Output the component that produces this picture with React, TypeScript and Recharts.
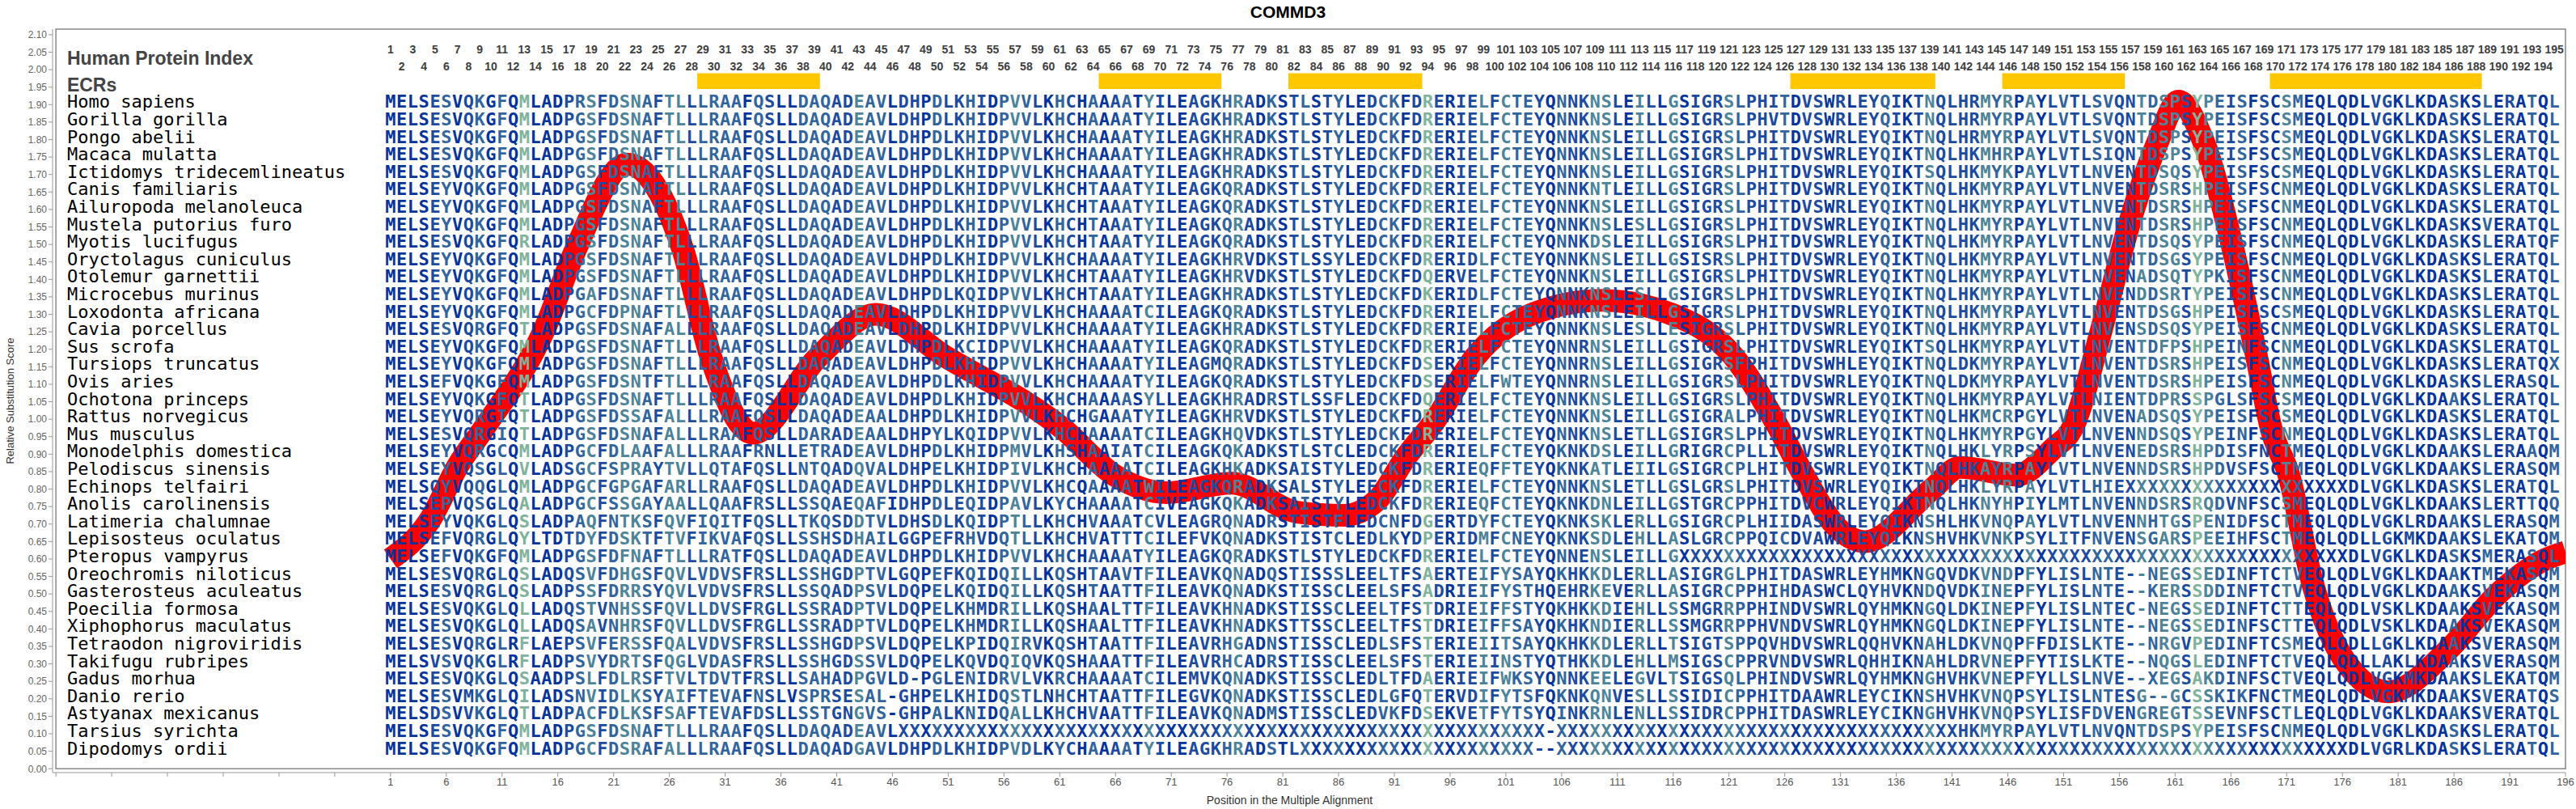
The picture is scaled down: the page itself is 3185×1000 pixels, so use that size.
import { ComposedChart, Line, ReferenceArea, Scatter, XAxis, YAxis } from 'recharts';

const species = [
  'Homo sapiens', 'Gorilla gorilla', 'Pongo abelii', 'Macaca mulatta', 'Ictidomys tridecemlineatus',
  'Canis familiaris', 'Ailuropoda melanoleuca', 'Mustela putorius furo', 'Myotis lucifugus',
  'Oryctolagus cuniculus', 'Otolemur garnettii', 'Microcebus murinus', 'Loxodonta africana',
  'Cavia porcellus', 'Sus scrofa', 'Tursiops truncatus', 'Ovis aries', 'Ochotona princeps',
  'Rattus norvegicus', 'Mus musculus', 'Monodelphis domestica', 'Pelodiscus sinensis',
  'Echinops telfairi', 'Anolis carolinensis', 'Latimeria chalumnae', 'Lepisosteus oculatus',
  'Pteropus vampyrus', 'Oreochromis niloticus', 'Gasterosteus aculeatus', 'Poecilia formosa',
  'Xiphophorus maculatus', 'Tetraodon nigroviridis', 'Takifugu rubripes', 'Gadus morhua',
  'Danio rerio', 'Astyanax mexicanus', 'Tarsius syrichta', 'Dipodomys ordii',
];

const rowY = [
  1.9, 1.85, 1.8, 1.75, 1.7, 1.65, 1.6, 1.55, 1.5, 1.45, 1.4, 1.35, 1.3, 1.25, 1.2, 1.15, 1.1, 1.05, 1.0,
  0.95, 0.9, 0.85, 0.8, 0.75, 0.7, 0.65, 0.6, 0.55, 0.5, 0.45, 0.4, 0.35, 0.3, 0.25, 0.2, 0.15, 0.1, 0.05,
];

// alignment columns 1-65
const seqStart = [
  'MELSESVQKGFQMLADPRSFDSNAFTLLLRAAFQSLLDAQADEAVLDHPDLKHIDPVVLKHCHAA',
  'MELSESVQKGFQMLADPGSFDSNAFTLLLRAAFQSLLDAQADEAVLDHPDLKHIDPVVLKHCHAA',
  'MELSESVQKGFQMLADPGSFDSNAFTLLLRAAFQSLLDAQADEAVLDHPDLKHIDPVVLKHCHAA',
  'MELSESVQKGFQMLADPGSFDSNAFTLLLRAAFQSLLDAQADEAVLDHPDLKHIDPVVLKHCHAA',
  'MELSESVQKGFQMLADPGSFDSNAFTLLLRAAFQSLLDAQADEAVLDHPDLKHIDPVVLKHCHAA',
  'MELSEYVQKGFQMLADPGSFDSNAFTLLLRAAFQSLLDAQADEAVLDHPDLKHIDPVVLKHCHTA',
  'MELSEYVQKGFQMLADPGSFDSNAFTLLLRAAFQSLLDAQADEAVLDHPDLKHIDPVVLKHCHTA',
  'MELSEYVQKGFQMLADPGSFDSNAFTLLLRAAFQSLLDAQADEAVLDHPDLKHIDPVVLKHCHTA',
  'MELSESVQKGFQRLADPGSFDSNAFTLLLRAAFQSLLDAQADEAVLDHPDLKHIDPVVLKHCHTA',
  'MELSEYVQKGFQMLADPGSFDSNAFTLLLRAAFQSLLDAQADEAVLDHPDLKHIDPVVLKHCHAA',
  'MELSEYVQKGFQMLADPGSFDSNAFTLLLRAAFQSLLDAQADEAVLDHPDLKHIDPVVLKHCHTA',
  'MELSEYVQKGFQMLADPGAFDSNAFTLLLRAAFQSLLDAQADEAVLDHPDLKQIDPVVLKHCHTA',
  'MELSEYVQKGFQMLADPGCFDPNAFTLLLRAAFQSLLDAQADEAVLDHPDLKHIDPVVLKHCHAA',
  'MELSESVQRGFQTLADPGSFDSNAFALLLRAAFQSLLDAQADEAVLDHPDLKHIDPVVLKHCHAA',
  'MELSEYVQKGFQMLADPGSFDSNAFTLLLRAAFQSLLDAQADEAVLDHPDLKCIDPVVLKHCHAA',
  'MELSEYVQKGFQMLADPGSFDSNAFTLLLRAAFQSLLDAQADEAVLDHPDLKHIDPVVLKHCHAA',
  'MELSEFVQKGFQMLADPGSFDSNTFTLLLRAAFQSLLDAQADEAVLDHPDLKHIDPVVLKHCHAA',
  'MELSEYVQKGFQTLADPGSFDSNAFTLLLRAAFQSLLDAQADEAVLDHPDLKHIDPVVLKHCHAA',
  'MELSEYVQRGIQTLADPGSFDSSAFALLLRAAFQSLLDAQADEAALDHPDLKHIDPVVLKHCHGA',
  'MELSESVQRGIQTLADPGSFDSNAFALLLRAAFQSLLDARADEAALDHPYLKQIDPVVLKHCHAA',
  'MELSEYVQRGCQMLADPGCFDLAAFALLLRAAFRNLLETRADEAVLDHPDLKHIDPMVLKHSHAA',
  'MELSEYVQSGLQVLADSGCFSPRAYTVLLQTAFQSLLNTQADQVALDHPELKHIDPIVLKHCHAA',
  'MELSQYVQQGLQMLADPGCFGPGAFARLLRAAFQSLLDAQADEAVLDHPDLKHIDPVVLKHCQAA',
  'MELSEPVQSGLQALADPGCFSSGAYAALLQAAFRSLLSSQAEQAFIDHPDLEQIDPAVLKYCHAA',
  'MELSEYVQKGLQSLADPAQFNTKSFQVFIQITFQSLLTKQSDDTVLDHSDLKQIDPTLLKHCHVA',
  'MELSEFVQRGLQYLTDTDYFDSKTFTVFIKVAFQSLLSSHSDHAILGGPEFRHVDQTLLKHCHVA',
  'MELSEFVQKGFQMLADPGSFDFNAFTLLLRATFQSLLDAQADEAVLDHPDLKHIDPVVLKHCHAA',
  'MELSESVQRGLQSLADQSVFDHGSFQVLVDVSFRSLLSSHGDPTVLGQPEFKQIDQILLKQSHTA',
  'MELSESVQRGLQSLADPSSFDRRSYQVLVDVSFRSLLSSQADPSVLDQPELKQIDQILLKQSHTA',
  'MELSESVQKGLQLLADQSTVNHSSFQVLLDVSFRGLLSSRADPTVLDQPELKHMDRILLKQSHAA',
  'MELSESVQKGLQLLADQSAVNHRSFQVLLDVSFRGLLSSRADPTVLDQPELKHMDRILLKQSHAA',
  'MELSESVQRGLRFLAEPSVFERSSFQALVDVSFRSLLSSHGDPSVLDQPELKPIDQIRVKQSHTA',
  'MELSVSVQKGLRFLADPSVYDRTSFQGLVDASFRSLLSSHGDSSVLDQPELKQVDQIQVKQSHAA',
  'MELSESVQKGLQSAADPSLFDLRSFTVLTDVTFRSLLSAHADPGVLD-PGLENIDRVLVKRCHAA',
  'MELSESVMKGLQILADSNVIDLKSYAIFTEVAFNSLVSPRSESAL-GHPELKHIDQSTLNHCHTA',
  'MELSDSVVKGLQTLADPACFDLKSFSAFTEVAFDSLLSSTGNGVS-GHPALKNIDQALLKHCHVA',
  'MELSESVQKGFQMLADPGSFDSNAFTLLLRAAFQSLLDAQADEAVL' + 'X'.repeat(19),
  'MELSESVQKGFQMLADPGCFDSRAFALLLRAAFQSLLDAQADGAVLDHPDLKHIDPVDLKYCHAA',
];

// alignment columns 66-131
const seqMid = [
  'AATYILEAGKHRADKSTLSTYLEDCKFDRERIELFCTEYQNNKNSLEILLGSIGRSLPHITDVSWR',
  'AATYILEAGKHRADKSTLSTYLEDCKFDRERIELFCTEYQNNKNSLEILLGSIGRSLPHVTDVSWR',
  'AATYILEAGKHRADKSTLSTYLEDCKFDRERIELFCTEYQNNKNSLEILLGSIGRSLPHITDVSWR',
  'AATYILEAGKHRADKSTLSTYLEDCKFDRERIELFCTEYQNNKNSLEILLGSIGRSLPHITDVSWR',
  'AATYILEAGKHRADKSTLSTYLEDCKFDRERIELFCTEYQNNKNSLEILLGSIGRSLPHITDVSWR',
  'AATYILEAGKQRADKSTLSTYLEDCKFDRERIELFCTEYQNNKNTLEILLGSIGRSLPHITDVSWR',
  'AATYILEAGKQRADKSTLSTYLEDCKFDRERIELFCTEYQNNKNSLEILLGSIGRSLPHITDVSWR',
  'AATYILEAGKQRADKSTLSTYLEDCKFDRERIELFCTEYQNNKNSLESLLGSIGRSLPHITDVSWR',
  'AATYILEAGKQRADKSTLSTYLEDCKFDRERIELFCTEYQNNKDSLEILLGSIGRSLPHITDVSWR',
  'AATYILEAGKHRVDKSTLSSYLEDCKFDRERIDLFCTEYQNNKNSLEILLGSISRSLPHITDVSWR',
  'AATYILEAGKHRVDKSTLSTYLEDCKFDQERVELFCTEYQNNKNSLEILLGSIGRSLPHITDVSWR',
  'AATYILEAGKHRADKSTLSTYLEDCKFDKERIDLFCTEYQNNKNSLESLLGSIGRSLPHITDVSWR',
  'AATCILEAGKQRADKSTLSTYLEDCKFDRERIELFCTEYQNNKNSLEILLGSIGRSLPHITDVSWR',
  'AATYILEAGKHRADKSTLSTYLEDCKFDRERIELFCTEYQNNKNSLESLLESIGRSLPHITDVSWR',
  'AATYILEAGKQRADKSTLSTYLEDCKFDRERIELFCTEYQNNRNSLEILLGSIGRSLPHITDVSWR',
  'AATYILEAGMQRADKSTLSTYLEDCKFDSERIELFCTEYQNNRNSLEILLGSIGRSFPHITDVSWH',
  'AATYILEAGKQRADKSTLSTYLEDCKFDSERIELFWTEYQNNRNSLEILLGSIGRSLPHITDVSWR',
  'AASYLLEAGKHRADRSTLSSFLEDCKFDQERIELFCTEYQNNKNSLEILLGSIGRSLPHITDVSWR',
  'AATYILEAGKHRVDKSTLSTYLEDCKFDRERIELFCTEYQNNKNSLEILLGSIGRALPHITDVSWR',
  'AATCILEAGKHQVDKSTLSTYLEDCKFDRERIELFCTEYQNNKNSLETLLGSIGRSLPHITDVSWR',
  'IATCILEAGKQKADKSTLSTCLEDCKFDRERIELFCTEYQKNKDSLEILLGRIGRCPLLITDVSWR',
  'AATCILEAGKHKADKSAISTYLEDCKFDRERIEQFFTEYQKNKATLEIILGSIGRCPLHITDVSWR',
  'AATWILEAGKQRADKSALSTYLEECKFDRERIELFCTEYQNNKNSLETLLGSLGRSLPHITDVSWR',
  'AATCIVEAGKQKADKSAISTYLEDCKFDRERIEQFCTEYQKNKDNLEILLGSTGRCPPHITDVCWR',
  'AATCVLEAGRQNADRSTISTFLEDCNFDGERTDYFCTEYQKNKSKLERLLGSIGRCPLHIIDASWR',
  'TTTCILEFVKQNADKSTISTCLEDLKYDPERIDMFCNEYQKNKSDLEHLLASLGRCPPQICDVAWR',
  'AATYILEAGKQRADKSTLSTYLEDCKFDRERIELFCTEYQNNENSLEILLG' + 'X'.repeat(15),
  'AVTFILEAVKQNADQSTISSSLEELTFSAERTEIFYSAYQKHKKDLERLLASIGRGLPHITDASWR',
  'ATTFILEAVKQNADKSTISSCLEELSFSADRIEIFYSTHQEHRKEVERLLASIGRCPPHIHDASWC',
  'LTTFILEAVKHNADKSTISSCLEELTFSTDRIEIFFSTYQKHKKDIEHLLSSMGRRPPHINDVSWR',
  'LTTFILEAVKHNADKSTTSSCLEELTFSTDRIEIFFSAYQKHKNDIERLLSSMGRRPPHVNDVSWR',
  'ATTFILEAVRHGADNSTISSCLEDLSFSTERIEIITSAYQKHKKDLERLLTSIGTSPPQVHDVSWR',
  'ATTFILEAVRHCADRSTISSCLEELSFSTERIEIINSTYQTHKKDLEHLLMSIGSCPPRVNDVSWR',
  'AATCILEMVKQNADKSTISSCLEDLTFDAERIEIFWKSYQNNKEELEGVLTSIGSQLPHINDVSWR',
  'ATTFILEGVKQNADKSTISSCLEDLGFQTERVDIFYTSFQKNKQNVESLLSSIDICPPHITDAAWR',
  'ATTFILEAVKQNADMSTISSCLEDVKFDSEKVETFYTSYQINKRNLENLLSSIDRCPPHITDASWR',
  'X'.repeat(39) + '-' + 'X'.repeat(26),
  'AATYILEAGKHRADSTL' + 'X'.repeat(21) + '--' + 'X'.repeat(26),
];

// alignment columns 131-195
const seqEnd = [
  'RLEYQIKTNQLHRMYRPAYLVTLSVQNTDSPSYPEISFSCSMEQLQDLVGKLKDASKSLERATQL',
  'RLEYQIKTNQLHRMYRPAYLVTLSVQNTDSPSYPEISFSCSMEQLQDLVGKLKDASKSLERATQL',
  'RLEYQIKTNQLHRMYRPAYLVTLSVQNTDSPSYPEISFSCSMEQLQDLVGKLKDASKSLERATQL',
  'RLEYQIKTNQLHKMHRPAYLVTLSIQNTDSPSYPEISFSCSMEQLQDLVGKLKDASKSLERATQL',
  'RLEYQIKTSQLHKMYKPAYLVTLNVENTDSQSYPEISFSCSMEQLQDLVGKLKDASKSLERATQL',
  'RLEYQIKTNQLHKMYRPAYLVTLNVENTDSRSHPEISFSCNMEQLQDLVGKLKDASKSLERATQL',
  'RLEYQIKTNQLHKMYRPAYLVTLNVENTDSRSHPEISFSCNMEQLQDLVGKLKDASKSLERATQL',
  'RLEYQIKTNQLHKMYRPAYLVTLNVENTDSRSHPEISFSCNMEQLQDLVGKLKDASKSVERATQL',
  'RLEYQIKTNQLHKMYRPAYLVTLNVENTDSQSYPEISFSCNMEQLQDLVGKLKDASKSLERATQF',
  'RLEYQIKTNQLHKMYRPAYLVTLNVENTDSGSYPEISFSCNMEQLQDLVGKLKDASKSLERATQL',
  'RLEYQIKTNQLHKMYRPAYLVTLNVENADSQTYPKISFSCNMEQLQDLVGKLKDASKSLERATQL',
  'RLEYQIKTNQLHKMYRPAYLVTLNVENDDSRTYPEISFSCNMEQLQDLVGKLKDASKSLERATQL',
  'RLEYQIKTNQLHKMYRPAYLVTLNVENTDSGSHPEISFSCSMEQLQDLVGKLKDASKSLERATQL',
  'RLEYQIKTNQLHKMYRPAYLVTLNVENSDSQSYPEISFSCNMEQLQDLVGKLKDASKSLERATQL',
  'RLEYQIKTSQLHKMYRPAYLVTLNVENTDFPSHPEINFSCNMEQLQDLVGKLKDASKSLERATQL',
  'HLEYQIKTNQLDKMYRPAYLVTLNVENTDSRSHPEISFSCNMEQLQDLVGKLKDASKSLERATQX',
  'RLEYQIKTNQLDKMYRPAYLVTLNVENTDSRSHPEISFSCNMEQLQDLVGKLKDASKSLERASQL',
  'RLEYQIKTNQLHKMYRPAYLVTLNIENTDPRSSPGLSFSCSMEQLQDLVGKLKDAAKSLERATQL',
  'RLEYQIKTNQLHKMCRPGYLVTLNVENADSQSYPEISFSCSMEQLQDLVGKLKDASKSLERATQL',
  'RLEYQIKTNQLHKMYRPGYLVTLNVENNDSQSYPEINFSCNMEQLQDLVGKLKDASKSLERATQL',
  'RLEYQIKTNQLHKLYRPSYLVTLNVENEDSRSHPDISFNCTMEQLQDLVGKLKDAAKSLERAAQM',
  'RLEYQIKTNQLHKAYRPAYLVTLNVENNDSRSHPDVSFSCTMEQLQDLVGKLKDAAKSLERASQM',
  'RLEYQIKTNQLHKLYRPAYLVTLHIE' + 'X'.repeat(20) + 'DLVGKLKDASKSLERATQL',
  'RLEYQIKTNQLHKNYHPIYLMTLNVENNDSRSRQDVNFSCSMEQLQDLVGKLKDAAKSLERTTQQ',
  'RLEYQIKNSHLHKVNQPAYLVTLNVENNHTGSPENIDFSCTMEQLQDLVGKLRDAAKSLERASQM',
  'RLEYQIKNSHVHKVNKPSYLITFNVENSGARSPEEIHFSCTMEQLQDLLGKMKDAAKSLEKATQM',
  'X'.repeat(46) + 'DLVGKLKDASKSMERASQL',
  'RLEYHMKNGQVDKVNDPFYLISLNTE--NEGSSEDINFTCTVEQLQDLVGKLKDAAKTMEKASQM',
  'CLQYHVKNDQVDKINEPFYLISLNTE--KERSSDDINFTCTVEQLQDLVGKLKDAAKSVEKASQM',
  'RLQYHMKNGQLDKINEPFYLISLNTEC-NEGSSEDINFTCTTEQLQDLVSKLKDAAKSVEKASQM',
  'RLQYHMKNGQLDKINEPFYLISLNTE--NEGSSEDINFSCTTEQLQDLVSKLKDAAKSVEKASQM',
  'RLQQHVKNAHLDKVNQPFFDISLKTE--NRGVPEDINFTCSMEQLQDLLGKLKDAAKSVERASQM',
  'RLQHHIKNAHLDRVNEPFYTISLKTE--NQGSLEDINFTCTVEQLQDLLAKLKDAAKSVERASQM',
  'RLQYHMKNGHVHKVNEPFYLLSLNVE--XEGSAKDINFSCTVEQLQDLVGKMKDAAKSLEKATQM',
  'RLEYCIKNSHVHKVNQPSYLISLNTESG--GCSSKIKFNCTMEQLQDLVGKMKDAAKSVERATQS',
  'RLEYCIKNGHVHKVNQPSYLISFDVENGREGTSSEVNFSCTLEQLQDLVGKLKDAAKSVERATQL',
  'X'.repeat(11) + 'HKMYRPAYLVTLNVQNTDSPSYPEISFSCNMEQLQDLVGKLKDASKSLERATQL',
  'X'.repeat(46) + 'DLVGRLKDASKSLERATQL',
];

// relative substitution score along the alignment
const scorePos = [
  1, 4.5, 7.1, 9.4, 14.8, 17.6, 22.2, 27.2, 29.7, 33.5, 39.4, 44.5, 50.7, 61.2, 65.9, 70.6, 76.4,
  82.3, 86.5, 89.5, 92, 94.5, 98.3, 103.3, 109.6, 115.9, 121.4, 125.2, 127.7, 130.7, 133.2, 139.2,
  141.7, 146.8, 150.1, 151.8, 154.4, 156.9, 159.4, 161.3, 163.6, 166.2, 168.3, 169.6, 171.2, 173.3,
  176.3, 180.1, 185.6, 189.8, 194, 196,
];
const scoreVal = [
  0.6, 0.71, 0.87, 0.975, 1.257, 1.486, 1.73, 1.486, 1.18, 0.96, 1.18, 1.3, 1.18, 0.975, 0.84, 0.79,
  0.817, 0.734, 0.725, 0.77, 0.89, 0.99, 1.18, 1.3, 1.34, 1.3, 1.18, 0.99, 0.84, 0.69, 0.65, 0.8,
  0.862, 0.84, 0.917, 0.975, 1.257, 1.56, 1.79, 1.91, 1.79, 1.486, 1.18, 0.975, 0.84, 0.534, 0.305,
  0.22, 0.344, 0.496, 0.596, 0.62,
];

const ecrStart = [29, 65, 82, 127, 146, 170];
const ecrEnd = [39, 75, 93, 139, 156, 188];

const xTicks = [
  -29, -24, -19, -14, -9, -4, 1, 6, 11, 16, 21, 26, 31, 36, 41, 46, 51, 56, 61, 66, 71, 76, 81, 86, 91,
  96, 101, 106, 111, 116, 121, 126, 131, 136, 141, 146, 151, 156, 161, 166, 171, 176, 181, 186, 191, 196,
];
const yTicks = [
  0, 0.05, 0.1, 0.15, 0.2, 0.25, 0.3, 0.35, 0.4, 0.45, 0.5, 0.55, 0.6, 0.65, 0.7, 0.75, 0.8, 0.85, 0.9,
  0.95, 1.0, 1.05, 1.1, 1.15, 1.2, 1.25, 1.3, 1.35, 1.4, 1.45, 1.5, 1.55, 1.6, 1.65, 1.7, 1.75, 1.8, 1.85,
  1.9, 1.95, 2.0, 2.05, 2.1,
];

const palette = ['#06349c', '#1d4b9f', '#32659d', '#4d8499', '#80b39c'];

const alignment = species.map((_, i) => seqStart[i] + seqMid[i].slice(0, 65) + seqEnd[i]);

// shade each column by how varied it is across species
const colLevel = alignment[0].split('').map((_, c) => {
  const counts: Record<string, number> = {};
  let n = 0;
  alignment.forEach((s) => {
    const ch = s[c];
    if (!ch || ch === 'X' || ch === '-') return;
    counts[ch] = (counts[ch] || 0) + 1;
    n++;
  });
  let h = 0;
  Object.values(counts).forEach((k) => {
    const p = k / n;
    h -= p * Math.log2(p);
  });
  return h < 0.3 ? 0 : h < 0.9 ? 1 : h < 1.5 ? 2 : h < 2.1 ? 3 : 4;
});

const letters = alignment.flatMap((s, r) =>
  s.split('').map((ch, c) => ({ x: c + 1, y: rowY[r], ch, fill: palette[colLevel[c]] })),
);
const indexLabels = alignment[0].split('').map((_, c) => ({
  x: c + 1,
  y: (c + 1) % 2 === 1 ? 2.05 : 2.0,
  label: String(c + 1),
}));
const speciesLabels = species.map((name, r) => ({ x: -28, y: rowY[r], label: name }));
const headerLabels = [
  { x: -28, y: 2.033, label: 'Human Protein Index' },
  { x: -28, y: 1.958, label: 'ECRs' },
];
const scoreData = scorePos.map((x, i) => ({ x, y: scoreVal[i] }));

const LetterShape = (p: any) => (
  <text
    x={p.cx}
    y={p.cy}
    dy={4}
    textAnchor="middle"
    fontFamily="DejaVu Sans Mono"
    fontWeight="bold"
    fontSize={22}
    fill={p.payload.fill}
  >
    {p.payload.ch}
  </text>
);

const IndexShape = (p: any) => (
  <text x={p.cx} y={p.cy} dy={1} textAnchor="middle" fontFamily="Liberation Sans" fontWeight="bold" fontSize={14} fill="#404040">
    {p.payload.label}
  </text>
);

const SpeciesShape = (p: any) => (
  <text x={p.cx} y={p.cy} dy={4} textAnchor="start" fontFamily="DejaVu Sans Mono" fontSize={22} fill="#000">
    {p.payload.label}
  </text>
);

const HeaderShape = (p: any) => (
  <text x={p.cx} y={p.cy} dy="0.36em" textAnchor="start" fontFamily="Liberation Sans" fontWeight="bold" fontSize={23} fill="#444">
    {p.payload.label}
  </text>
);

export default function App() {
  return (
    <div style={{ position: 'absolute', left: 0, top: 0, width: 3185, height: 1000, background: '#fff' }}>
      <div
        style={{
          position: 'absolute',
          left: 0,
          top: 0,
          width: 3185,
          height: 29,
          lineHeight: '29px',
          textAlign: 'center',
          fontFamily: 'Liberation Sans, Arial, sans-serif',
          fontWeight: 'bold',
          fontSize: 21,
        }}
      >
        COMMD3
      </div>
      <ComposedChart width={3185} height={1000} margin={{ top: 36, right: 13, bottom: 0, left: 0 }}>
        <XAxis
          type="number"
          dataKey="x"
          domain={[-29.3, 196]}
          ticks={xTicks}
          interval={0}
          allowDataOverflow
          height={45}
          stroke="#999"
          tickSize={5}
          tickFormatter={(v: number) => (v > 0 ? String(v) : '')}
          tick={{ fontSize: 13, fill: '#555', fontFamily: 'Liberation Sans' }}
          label={{ value: 'Position in the Multiple Alignment', position: 'insideBottom', offset: 6, dx: -24, fontSize: 14, fill: '#333', fontFamily: 'Liberation Sans' }}
        />
        <YAxis
          type="number"
          dataKey="y"
          domain={[-0.011, 2.116]}
          ticks={yTicks}
          interval={0}
          allowDataOverflow
          width={65}
          stroke="#999"
          tickSize={5}
          tickFormatter={(v: number) => v.toFixed(2)}
          tick={{ fontSize: 12, fill: '#666', fontFamily: 'Liberation Sans' }}
          label={{ value: 'Relative Substitution Score', angle: -90, position: 'insideLeft', offset: 12, fontSize: 13, fill: '#333', fontFamily: 'Liberation Sans', style: { textAnchor: 'middle' } }}
        />
        <ReferenceArea x1={-29} x2={196} y1={0} y2={2.116} fill="none" stroke="#888" strokeWidth={1.5} />
        {ecrStart.map((s, i) => (
          <ReferenceArea key={i} x1={s - 0.5} x2={ecrEnd[i] + 0.5} y1={1.945} y2={1.99} fill="#ffc700" fillOpacity={1} stroke="none" />
        ))}
        <Line
          data={scoreData}
          dataKey="y"
          type="monotone"
          stroke="#ff0000"
          strokeWidth={28}
          strokeLinejoin="round"
          dot={false}
          activeDot={false}
          isAnimationActive={false}
        />
        <Scatter data={letters} dataKey="y" shape={LetterShape} isAnimationActive={false} />
        <Scatter data={indexLabels} dataKey="y" shape={IndexShape} isAnimationActive={false} />
        <Scatter data={speciesLabels} dataKey="y" shape={SpeciesShape} isAnimationActive={false} />
        <Scatter data={headerLabels} dataKey="y" shape={HeaderShape} isAnimationActive={false} />
      </ComposedChart>
    </div>
  );
}
